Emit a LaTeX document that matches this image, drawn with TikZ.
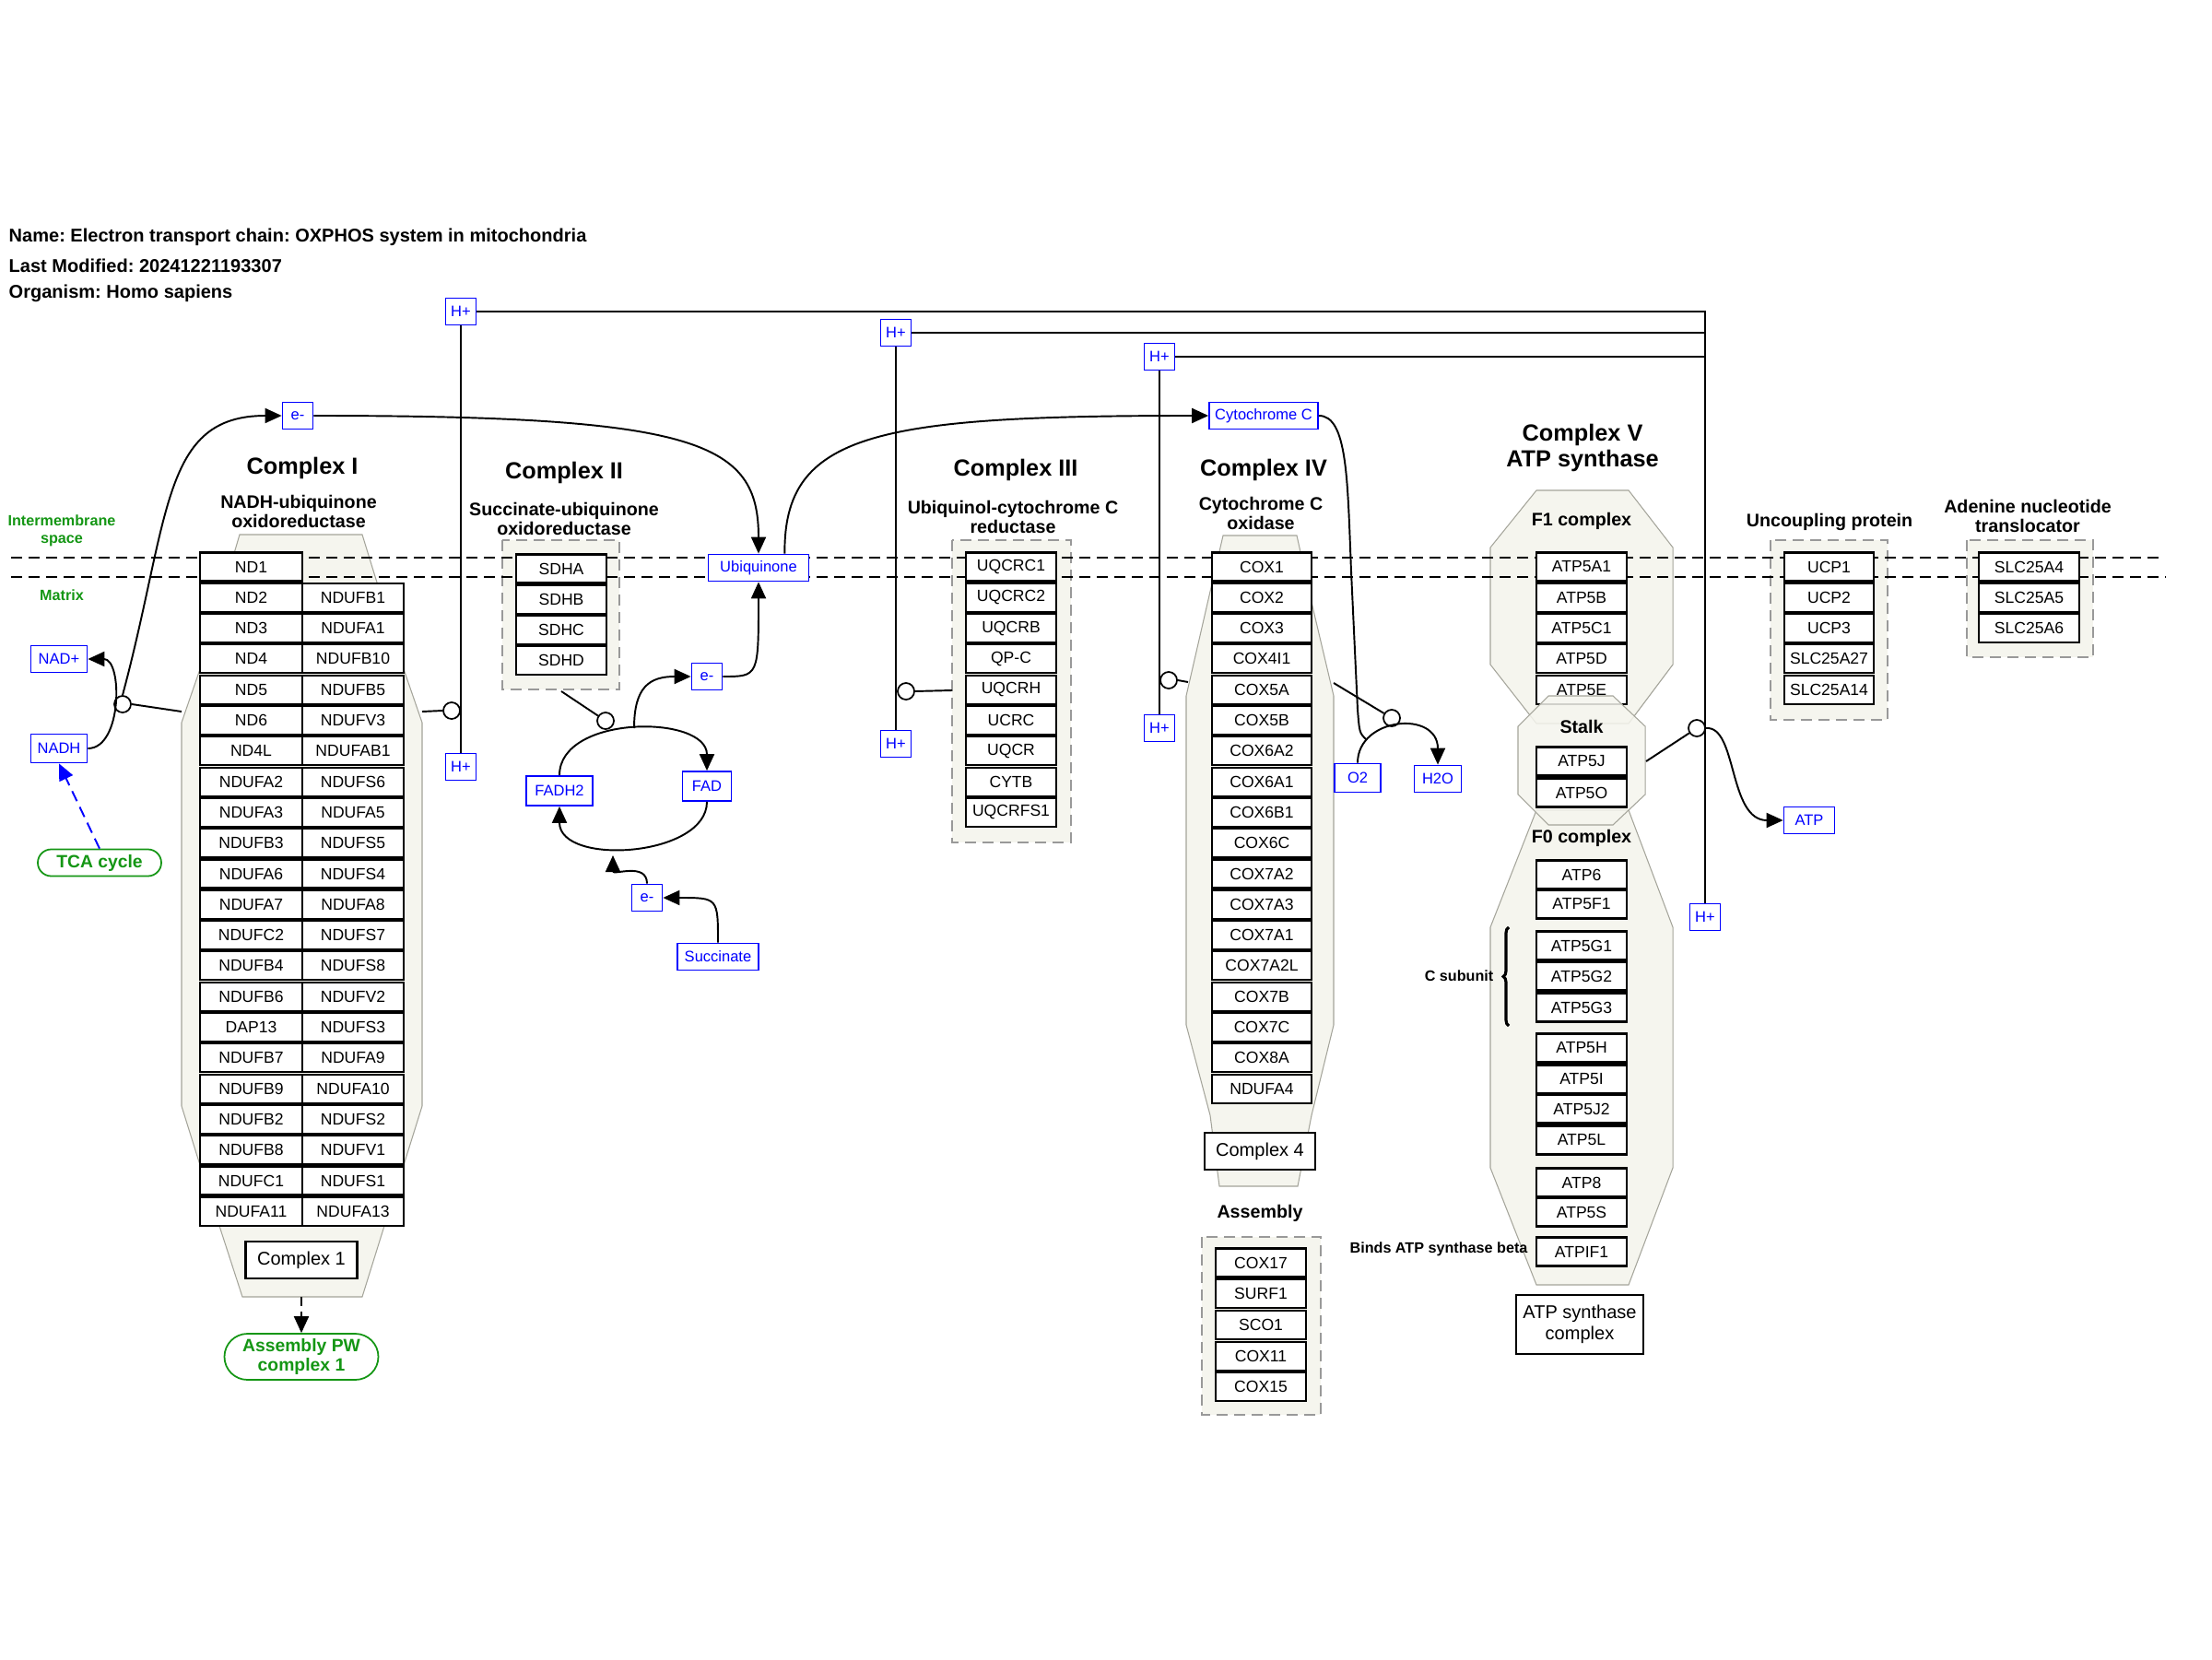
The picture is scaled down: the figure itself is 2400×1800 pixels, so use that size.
\documentclass[tikz,border=0pt]{standalone}
\usepackage{fontspec}
\setmainfont{Liberation Sans}
\usetikzlibrary{arrows.meta,positioning,decorations.pathreplacing,calc}
\definecolor{metblue}{RGB}{0,0,255}
\definecolor{pwgreen}{RGB}{20,150,20}
\definecolor{grpfill}{RGB}{245,245,238}
\definecolor{grpline}{RGB}{165,165,155}
\frenchspacing

\begin{document}
\begin{tikzpicture}[
x=0.1mm,y=-0.1mm,
gene/.style={draw,line width=0.6pt,fill=white,minimum height=3.1mm,inner sep=0pt,font=\fontsize{5}{6}\selectfont},
met/.style={draw=metblue,line width=0.5pt,fill=white,text=metblue,minimum height=2.9mm,minimum width=3.3mm,inner xsep=0.5mm,inner ysep=0pt,font=\fontsize{4.7}{5.5}\selectfont},
hdr/.style={anchor=west,inner sep=0pt,font=\bfseries\fontsize{5.7}{6.5}\selectfont},
ttl/.style={align=center,font=\bfseries\fontsize{7.2}{8.2}\selectfont},
sub/.style={align=center,font=\bfseries\fontsize{5.6}{6.2}\selectfont},
note/.style={align=center,font=\bfseries\fontsize{4.6}{5.4}\selectfont},
lbl/.style={gene,align=center,font=\fontsize{5.7}{6.5}\selectfont},
grp/.style={fill=grpfill,draw=grpline,line width=0.3pt},
dgrp/.style={fill=grpfill,draw=gray!80,line width=0.5pt,dash pattern=on 1.2mm off 0.7mm},
pw/.style={draw=pwgreen,line width=0.5pt,text=pwgreen,align=center,inner sep=0pt,font=\bfseries\fontsize{5.5}{6.2}\selectfont},
anc/.style={circle,draw,fill=white,line width=0.5pt,minimum size=1.8mm,inner sep=0pt},
memb/.style={line width=0.5pt,dash pattern=on 1.2mm off 0.7mm},
ln/.style={line width=0.55pt},
rx/.style={-{Triangle[length=1.8mm,width=1.6mm]},line width=0.55pt}
]
\fill[white] (0,0) rectangle (2400,1800);
\useasboundingbox (0,0) rectangle (2400,1800);

% header
\node[hdr] (hname) at (9,257) {Name: Electron transport chain: OXPHOS system in mitochondria};
\node[hdr] (hmod) at (9,288) {Last Modified: 20241221193307};
\node[hdr] (horg) at (9,318) {Organism: Homo sapiens};

% compartments
\node[note,text=pwgreen] (ims) at (67,576) {Intermembrane\\space};
\node[note,text=pwgreen] (mtx) at (67,646) {Matrix};

% group shapes
\draw[grp] (260,580) -- (393,580) -- (438,726) -- (458,784) -- (458,1200) -- (438,1264) -- (417,1330) -- (393,1407)
  -- (263,1407) -- (238,1330) -- (217,1264) -- (197,1200) -- (197,784) -- (217,726) -- cycle;
\draw[dgrp] (545,586) rectangle (672,748);
\draw[dgrp] (1033,586) rectangle (1162,914);
\draw[grp] (1327,581) -- (1407,581) -- (1425,662) -- (1447,755) -- (1447,1112) -- (1423,1210) -- (1408,1287)
  -- (1323,1287) -- (1313,1210) -- (1287,1112) -- (1287,755) -- (1315,633) -- cycle;
\draw[dgrp] (1304,1342) rectangle (1433,1535);
\draw[grp] (1667,532) -- (1767,532) -- (1815,594) -- (1815,721) -- (1767,785) -- (1667,785) -- (1617,721) -- (1617,594) -- cycle;
\draw[grp] (1667,879) -- (1767,879) -- (1815,1006) -- (1815,1267) -- (1767,1394) -- (1667,1394) -- (1617,1267) -- (1617,1006) -- cycle;
\draw[dgrp] (1921,586) rectangle (2048,781);
\draw[dgrp] (2134,586) rectangle (2271,713);

% membrane
\draw[memb] (12,605) -- (2342,605);
\draw[memb] (12,626) -- (2350,626);

% titles
\node[ttl] (t1) at (328,508) {Complex I};
\node[sub] (s1) at (324,555) {NADH-ubiquinone\\oxidoreductase};
\node[ttl] (t2) at (612,513) {Complex II};
\node[sub] (s2) at (612,563) {Succinate-ubiquinone\\oxidoreductase};
\node[ttl] (t3) at (1102,510) {Complex III};
\node[sub] (s3) at (1099,561) {Ubiquinol-cytochrome C\\reductase};
\node[ttl] (t4) at (1371,510) {Complex IV};
\node[sub] (s4) at (1368,557) {Cytochrome C\\oxidase};
\node[ttl] (t5) at (1717,486) {Complex V\\ATP synthase};
\node[sub] (s6) at (1985,566) {Uncoupling protein};
\node[sub] (s7) at (2200,560) {Adenine nucleotide\\translocator};
\node[sub] (f1) at (1716,565) {F1 complex};
\node[sub] (asmt) at (1367,1316) {Assembly};

% complex I
\foreach \g [count=\i from 0] in {ND1,ND2,ND3,ND4,ND5,ND6,ND4L,NDUFA2,NDUFA3,NDUFB3,NDUFA6,NDUFA7,NDUFC2,NDUFB4,NDUFB6,DAP13,NDUFB7,NDUFB9,NDUFB2,NDUFB8,NDUFC1,NDUFA11}
  \node[gene,minimum width=11.1mm] (c1l\i) at (272.5,{615+33.3*\i}) {\g};
\foreach \g [count=\i from 1] in {NDUFB1,NDUFA1,NDUFB10,NDUFB5,NDUFV3,NDUFAB1,NDUFS6,NDUFA5,NDUFS5,NDUFS4,NDUFA8,NDUFS7,NDUFS8,NDUFV2,NDUFS3,NDUFA9,NDUFA10,NDUFS2,NDUFV1,NDUFS1,NDUFA13}
  \node[gene,minimum width=11mm] (c1r\i) at (383,{615+33.3*\i}) {\g};
\node[lbl,minimum width=12.1mm,minimum height=4mm] (cx1) at (327,1367) {Complex 1};

% complex II
\foreach \g [count=\i from 0] in {SDHA,SDHB,SDHC,SDHD}
  \node[gene,minimum width=9.8mm] (c2\i) at (609,{617+33.3*\i}) {\g};

% complex III
\foreach \g [count=\i from 0] in {UQCRC1,UQCRC2,UQCRB,QP-C,UQCRH,UCRC,UQCR,CYTB,UQCRFS1}
  \node[gene,minimum width=9.8mm] (c3\i) at (1097,{615+33.3*\i}) {\g};

% complex IV
\foreach \g [count=\i from 0] in {COX1,COX2,COX3,COX4I1,COX5A,COX5B,COX6A2,COX6A1,COX6B1,COX6C,COX7A2,COX7A3,COX7A1,COX7A2L,COX7B,COX7C,COX8A,NDUFA4}
  \node[gene,minimum width=10.8mm] (c4\i) at (1369,{615+33.3*\i}) {\g};
\node[lbl,minimum width=12mm,minimum height=4mm] (cx4) at (1367,1249) {Complex 4};
\foreach \g [count=\i from 0] in {COX17,SURF1,SCO1,COX11,COX15}
  \node[gene,minimum width=9.8mm] (as\i) at (1368,{1370+33.7*\i}) {\g};

% complex V
\foreach \g [count=\i from 0] in {ATP5A1,ATP5B,ATP5C1,ATP5D,ATP5E}
  \node[gene,minimum width=9.8mm] (f1\i) at (1716,{615+33.3*\i}) {\g};
\draw[grp,fill opacity=0.85] (1680,755) -- (1750,755) -- (1785,788) -- (1785,862) -- (1750,895) -- (1680,895) -- (1647,862) -- (1647,788) -- cycle;
\node[sub] (stk) at (1716,788) {Stalk};
\node[gene,minimum width=9.8mm] (st0) at (1716,826) {ATP5J};
\node[gene,minimum width=9.8mm] (st1) at (1716,860) {ATP5O};
\node[sub] (f0) at (1716,909) {F0 complex};
\foreach \g/\y [count=\i from 0] in {ATP6/949,ATP5F1/981,ATP5G1/1026,ATP5G2/1059,ATP5G3/1093,ATP5H/1137,ATP5I/1171,ATP5J2/1203,ATP5L/1237,ATP8/1283,ATP5S/1315,ATPIF1/1358}
  \node[gene,minimum width=9.8mm] (f0\i) at (1716,\y) {\g};
\node[note] (csub) at (1583,1059) {C subunit};
\coordinate (cbrb) at (1637,1113);
\coordinate (cbrt) at (1637,1006);
\draw[decorate,decoration={brace,amplitude=0.6mm},line width=0.9pt] (cbrb) -- (cbrt);
\node[note] (bind) at (1561,1355) {Binds ATP synthase beta};
\node[lbl,minimum width=13.8mm,minimum height=6.4mm] (cx5) at (1714,1437) {ATP synthase\\complex};

% uncoupling protein and translocator
\foreach \g [count=\i from 0] in {UCP1,UCP2,UCP3,SLC25A27,SLC25A14}
  \node[gene,minimum width=9.7mm] (uc\i) at (1984.5,{615+33.3*\i}) {\g};
\foreach \g [count=\i from 0] in {SLC25A4,SLC25A5,SLC25A6}
  \node[gene,minimum width=10.9mm] (an\i) at (2201.5,{615+33.3*\i}) {\g};

% metabolites
\node[met,minimum width=6.1mm] (nadp) at (64,715) {NAD+};
\node[met,minimum width=6.1mm,minimum height=3.1mm] (nadh) at (64,812) {NADH};
\node[pw,minimum width=13.4mm,minimum height=2.9mm,rounded corners=1.45mm] (tca) at (108,936) {TCA cycle};
\node[pw,minimum width=16.7mm,minimum height=5mm,rounded corners=2.5mm] (asm1) at (327,1472) {Assembly PW\\complex 1};
\node[met] (e1) at (323,451) {e-};
\node[met] (hi1) at (500,338) {H+};
\node[met] (hm1) at (500,832) {H+};
\node[met,minimum width=10.9mm] (ubq) at (823,616) {Ubiquinone};
\node[met] (e2a) at (767,734) {e-};
\node[met] (e2b) at (702,974) {e-};
\node[met,minimum width=7.2mm,minimum height=3.2mm] (fadh2) at (607,858) {FADH2};
\node[met,minimum width=5.3mm,minimum height=3.2mm] (fad) at (767,853) {FAD};
\node[met,minimum width=8.8mm] (succ) at (779,1038) {Succinate};
\node[met] (hi3) at (972,361) {H+};
\node[met] (hm3) at (972,807) {H+};
\node[met] (hi4) at (1258,387) {H+};
\node[met] (hm4) at (1258,790) {H+};
\node[met,minimum width=11.8mm] (cytc) at (1371,451) {Cytochrome C};
\node[met,minimum width=5mm,minimum height=3.1mm] (o2) at (1473,844) {O2};
\node[met,minimum width=5.1mm] (h2o) at (1560,845) {H2O};
\node[met,minimum width=5.5mm] (atp) at (1963,890) {ATP};
\node[met] (hm5) at (1850,995) {H+};

% anchors and group edges
\node[anc] (anc1) at (133,764) {};
\node[anc] (anc1b) at (490,771) {};
\node[anc] (anc2) at (657,782) {};
\node[anc] (anc3) at (983,750) {};
\node[anc] (anc4) at (1268,738) {};
\node[anc] (anc4b) at (1510,779) {};
\node[anc] (anc5) at (1841,790) {};
\coordinate (c1w) at (197,772);
\coordinate (c1e) at (458,772);
\coordinate (c1s) at (327,1407);
\coordinate (c2s) at (609,750);
\coordinate (c3w) at (1033,749);
\coordinate (c4w) at (1289,740);
\coordinate (c4e) at (1447,741);
\coordinate (stke) at (1786,826);
\coordinate (r2) at (688,790);
\coordinate (r2b) at (665,928);
\coordinate (r4) at (1482,802);

% proton lines
\draw[ln] (hm1.north) -- (hi1.south);
\draw[ln] (hm3.north) -- (hi3.south);
\draw[ln] (hm4.north) -- (hi4.south);
\draw[ln] (hi1.east) -| (hm5.north);
\draw[ln] (hi3.east) -- (hi3.east -| hm5.north);
\draw[ln] (hi4.east) -- (hi4.east -| hm5.north);

% complex I
\draw[ln] (c1w) -- (anc1.east);
\draw[ln] (c1e) -- (anc1b.west);
\draw[rx] (nadh.east) .. controls (133,812) and (133,715) .. (nadp.east);
\draw[rx] (anc1.north) .. controls (185,560) and (175,451) .. (e1.west);
\draw[rx] (e1.east) .. controls (760,451) and (823,480) .. (ubq.north);
\draw[rx,draw=metblue,dash pattern=on 1.2mm off 0.7mm] (tca.north) -- (nadh.south);
\draw[rx,dash pattern=on 1mm off 0.6mm] (c1s) -- (asm1.north);

% complex II
\draw[ln] (c2s) -- (anc2);
\draw[rx] (fadh2.north) .. controls (607,775) and (767,775) .. (fad.north);
\draw[rx] (fad.south) .. controls (767,930) and (607,940) .. (fadh2.south);
\draw[rx] (r2) .. controls (688,745) and (705,734) .. (e2a.west);
\draw[rx] (e2a.east) .. controls (823,734) .. (ubq.south);
\draw[rx] (succ.north) .. controls (779,974) .. (e2b.east);
\draw[rx] (e2b.north) .. controls (702,935) and (665,950) .. (r2b);

% complex III and IV
\draw[ln] (c3w) -- (anc3.east);
\draw[ln] (c4w) -- (anc4.east);
\draw[ln] (c4e) -- (anc4b);
\draw[rx] ([xshift=-2.7mm]ubq.north east) .. controls (850,470) and (950,451) .. (cytc.west);
\draw[ln] (cytc.east) .. controls (1462,451) and (1462,520) .. (1466,620) -- (1473,770) .. controls (1475,795) .. (r4);
\draw[rx] (o2.north) .. controls (1473,778) and (1560,770) .. (h2o.north);

% complex V
\draw[ln] (stke) -- (anc5);
\draw[rx] (anc5.east) .. controls (1885,787) and (1875,890) .. (atp.west);
\end{tikzpicture}
\end{document}
